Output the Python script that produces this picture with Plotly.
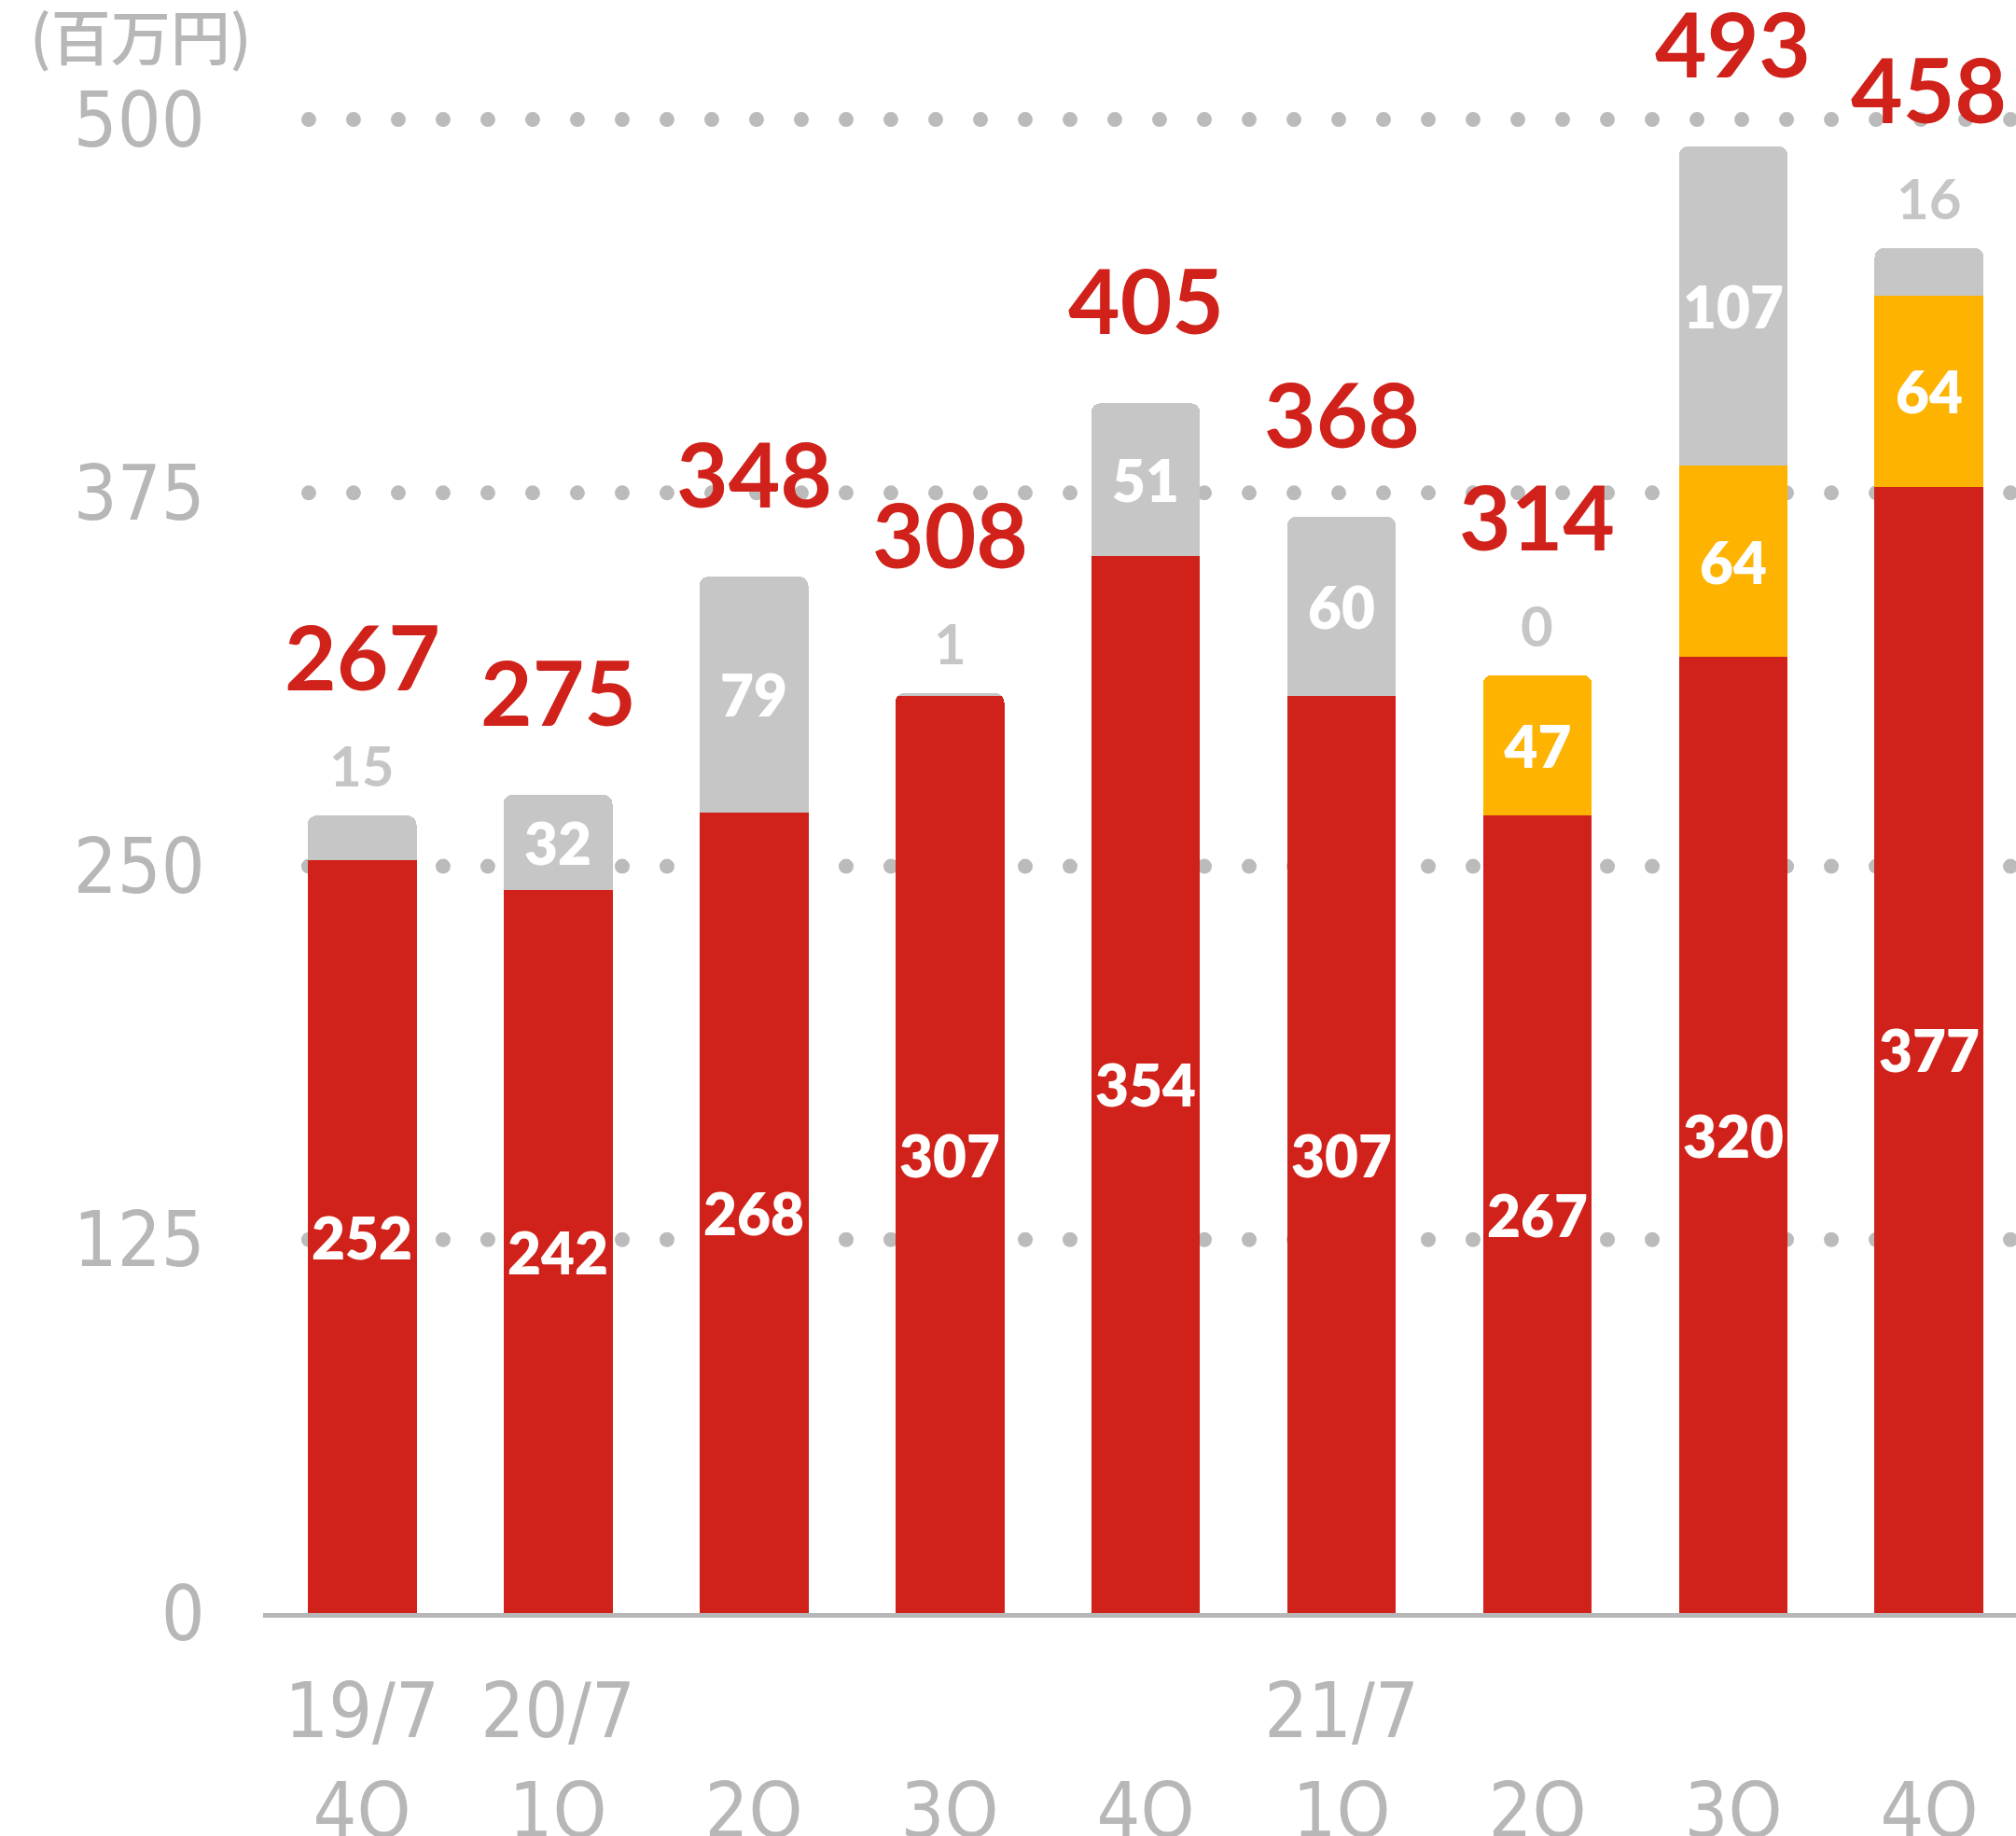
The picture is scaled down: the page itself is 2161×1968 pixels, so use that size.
import numpy as np
import plotly.graph_objects as go

# ---- data ----
categories = ["19/7 4Q", "20/7 1Q", "20/7 2Q", "20/7 3Q", "20/7 4Q",
              "21/7 1Q", "21/7 2Q", "21/7 3Q", "21/7 4Q"]
tick_labels = ["19/7<br>4Q", "20/7<br>1Q", "\u00a0<br>2Q", "\u00a0<br>3Q", "\u00a0<br>4Q",
               "21/7<br>1Q", "\u00a0<br>2Q", "\u00a0<br>3Q", "\u00a0<br>4Q"]
red_values = [252, 242, 268, 307, 354, 307, 267, 320, 377]
yellow_values = [None, None, None, None, None, None, 47, 64, 64]
gray_values = [15, 32, 79, 1, 51, 60, 0, 107, 16]
total_labels = [267, 275, 348, 308, 405, 368, 314, 493, 458]
y_ticks = [0, 125, 250, 375, 500]
unit_label = "(百万円)"

# ---- style ----
RED = "#D0221A"
YELLOW = "#FDB300"
GRAY = "#C6C6C6"
AXIS_GRAY = "#B7B7B7"
DOT_GRAY = "#BBBBBB"
NUM_FONT = "DejaVu Sans Condensed, Roboto"
LBL_FONT = "Lato, Noto Sans, sans-serif"
X_RANGE = [-0.505, 8.443]
Y_RANGE = [0, 540]
SMALL = 20  # segments smaller than this get their label outside

fig = go.Figure()

# dotted grid (base axes, drawn beneath the bars)
dot_x = np.arange(-0.272, X_RANGE[1], 0.2286)
gx, gy = [], []
for t in y_ticks[1:]:
    gx.extend(dot_x)
    gy.extend([t] * len(dot_x))
fig.add_trace(go.Scatter(x=gx, y=gy, mode="markers", xaxis="x", yaxis="y",
                         marker=dict(size=16, color=DOT_GRAY, line=dict(width=0)),
                         hoverinfo="skip", showlegend=False))

idx = list(range(len(categories)))
inside_font = dict(family=LBL_FONT, size=62, color="white", weight=800)

fig.add_trace(go.Bar(x=idx, y=red_values, marker=dict(color=RED, line=dict(width=0)),
                     text=[str(v) for v in red_values], textposition="inside",
                     insidetextanchor="middle", textangle=0, constraintext="none",
                     textfont=inside_font, xaxis="x2", yaxis="y2", showlegend=False))
fig.add_trace(go.Bar(x=idx, y=yellow_values, marker=dict(color=YELLOW, line=dict(width=0)),
                     text=["" if v is None else str(v) for v in yellow_values],
                     textposition="inside", insidetextanchor="middle", textangle=0,
                     constraintext="none", textfont=inside_font,
                     xaxis="x2", yaxis="y2", showlegend=False))
fig.add_trace(go.Bar(x=idx, y=gray_values, marker=dict(color=GRAY, line=dict(width=0)),
                     text=[str(v) if v >= SMALL else "" for v in gray_values],
                     textposition="inside", insidetextanchor="middle", textangle=0,
                     constraintext="none", textfont=inside_font,
                     xaxis="x2", yaxis="y2", showlegend=False))

annotations = []
for i in idx:
    top = red_values[i] + (yellow_values[i] or 0) + gray_values[i]
    small = gray_values[i] < SMALL
    if small:
        annotations.append(dict(x=i, y=top, xref="x2", yref="y2", text=f"<b>{gray_values[i]}</b>",
                                showarrow=False, yanchor="bottom", yshift=16,
                                font=dict(family=LBL_FONT, size=60, color=GRAY, weight=800)))
    annotations.append(dict(x=i, y=top, xref="x2", yref="y2", text=f"<b>{total_labels[i]}</b>",
                            showarrow=False, yanchor="bottom", yshift=112 if small else 52,
                            font=dict(family=LBL_FONT, size=96, color=RED, weight=900)))

annotations.append(dict(x=-0.134, y=0.979, xref="paper", yref="paper", text=unit_label,
                        showarrow=False, xanchor="left", yanchor="middle",
                        font=dict(family="Noto Sans CJK JP", size=64, color=AXIS_GRAY, weight=500)))

fig.update_layout(
    width=2161, height=1968, autosize=False,
    margin=dict(l=282, r=0, t=0, b=239, pad=0, autoexpand=False),
    paper_bgcolor="white", plot_bgcolor="white",
    barmode="stack", bargap=0.443, barcornerradius=10,
    showlegend=False,
    annotations=annotations,
    xaxis=dict(range=X_RANGE, visible=False, showgrid=False, zeroline=False, automargin=False),
    yaxis=dict(range=Y_RANGE, tickvals=y_ticks, showgrid=False, zeroline=False, automargin=False,
               ticks="outside", ticklen=45, tickcolor="rgba(0,0,0,0)",
               tickfont=dict(family=NUM_FONT, size=82, color=AXIS_GRAY)),
    xaxis2=dict(overlaying="x", anchor="y2", range=X_RANGE, tickvals=idx, ticktext=tick_labels,
                showgrid=False, zeroline=False, showline=True, linecolor=AXIS_GRAY, linewidth=5,
                automargin=False,
                ticks="outside", ticklen=30, tickcolor="rgba(0,0,0,0)",
                tickfont=dict(family=NUM_FONT, size=82, color=AXIS_GRAY)),
    yaxis2=dict(overlaying="y", anchor="x2", range=Y_RANGE, visible=False,
                showgrid=False, zeroline=False, automargin=False),
)

fig.write_html("out.html", config={"displayModeBar": False},
               post_script="document.body.style.margin='0px';")
